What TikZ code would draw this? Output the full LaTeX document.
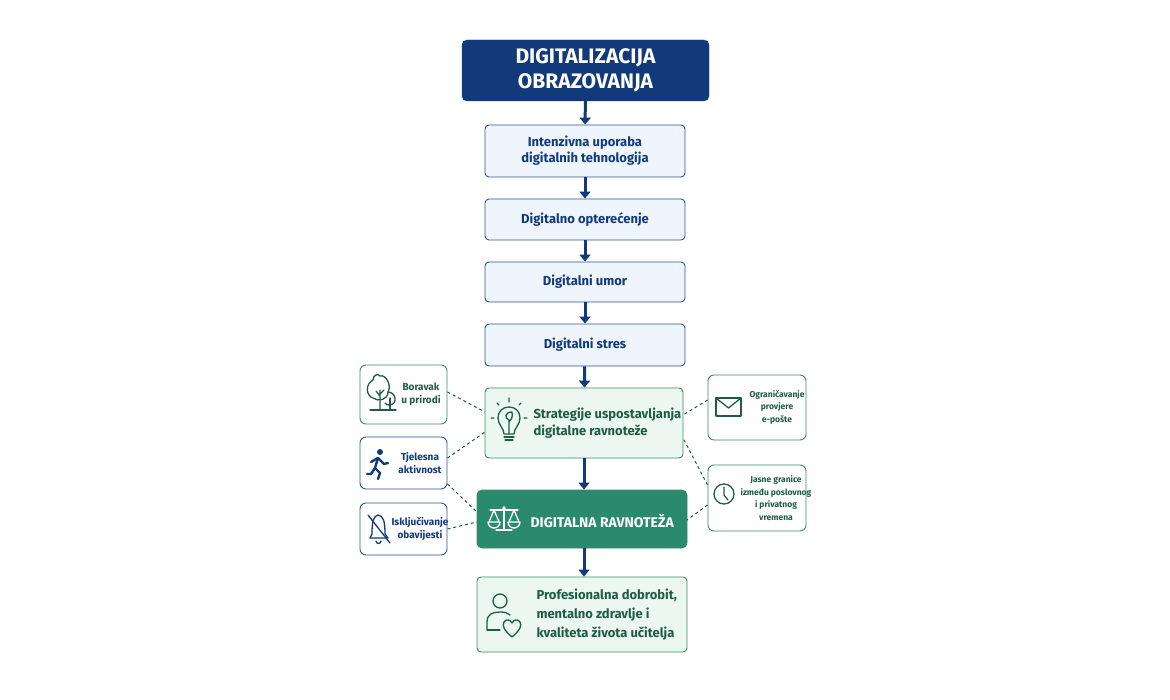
\documentclass[tikz,border=0pt]{standalone}
\usepackage{fontspec}
\setmainfont{Fira Sans}
\usetikzlibrary{arrows.meta}
\definecolor{navy}{HTML}{123A7A}
\definecolor{lblue}{HTML}{EEF5FC}
\definecolor{bborder}{HTML}{2F5597}
\definecolor{gborder}{HTML}{3E8A6B}
\definecolor{lgreen}{HTML}{EDF7F2}
\definecolor{dgreen}{HTML}{2A8A6E}
\definecolor{gtext}{HTML}{1F5C45}
\begin{document}
\begin{tikzpicture}[x=1pt,y=-1pt,
  bluebox/.style={draw=bborder,fill=lblue,rounded corners=4pt,line width=0.9pt,text=navy,font=\fontsize{13}{16}\selectfont\bfseries,align=center},
  greenbox/.style={draw=gborder,fill=lgreen,rounded corners=4pt,line width=0.9pt,text=gtext,font=\fontsize{14}{18}\selectfont\bfseries,align=left},
  side/.style={draw=#1,fill=white,rounded corners=6pt,line width=0.9pt},
  stxt/.style={font=\fontsize{10}{13}\selectfont\bfseries,align=center},
  rtxt/.style={font=\fontsize{8.5}{12.5}\selectfont\bfseries,align=center,text=gtext},
  arr/.style={draw=navy,line width=3pt,-{Triangle[length=7pt,width=11pt]}},
  dconn/.style={draw=gtext,dashed,line width=1pt},
  ic/.style={line width=1.3pt,line cap=round,line join=round}]
\useasboundingbox (0,0) rectangle (1170,700);
\fill[white] (0,0) rectangle (1170,700);
% main boxes
\node[draw=navy,fill=navy,rounded corners=5pt,minimum width=247pt,minimum height=61pt,text=white,font=\fontsize{21}{25}\selectfont\bfseries,align=center] (t) at (585.5,70.5) {DIGITALIZACIJA\\OBRAZOVANJA};
\node[bluebox,minimum width=200pt,minimum height=52pt] (b1) at (585,151) {Intenzivna uporaba\\digitalnih tehnologija};
\node[bluebox,minimum width=200pt,minimum height=41pt] (b2) at (585,219.5) {Digitalno opterećenje};
\node[bluebox,minimum width=200pt,minimum height=40pt] (b3) at (585,282) {Digitalni umor};
\node[bluebox,minimum width=200pt,minimum height=42pt] (b4) at (585,345) {Digitalni stres};
\node[greenbox,minimum width=198pt,minimum height=70pt] (s) at (584,423) {};
\node[text=gtext,font=\fontsize{13}{17}\selectfont\bfseries,align=left,anchor=west] (stx) at (530,423) {Strategije uspostavljanja\\digitalne ravnoteže};
\node[draw=gborder,fill=dgreen,rounded corners=5pt,line width=0.9pt,minimum width=210pt,minimum height=58pt] (bal) at (582,519) {};
\node[text=white,font=\fontsize{14}{18}\selectfont\bfseries,anchor=west] (baltx) at (527,521) {DIGITALNA RAVNOTEŽA};
\node[greenbox,minimum width=210pt,minimum height=75pt] (f) at (582,614.5) {};
\node[text=gtext,font=\fontsize{13}{19}\selectfont\bfseries,align=left,anchor=west] (ftx) at (533,615) {Profesionalna dobrobit,\\mentalno zdravlje i\\kvaliteta života učitelja};
% arrows
\draw[arr] (t) -- (b1);
\draw[arr] (b1) -- (b2);
\draw[arr] (b2) -- (b3);
\draw[arr] (b3) -- (b4);
\draw[arr] (b4) -- (s);
\draw[arr] (s) -- (bal.north -| s);
\draw[arr] (bal.south -| s) -- (f.north -| s);
% side boxes
\node[side=gborder,minimum width=87pt,minimum height=59pt] (l1) at (403.5,394.5) {};
\node[stxt,text=gtext] at (421,394) {Boravak\\u prirodi};
\node[side=bborder,minimum width=87pt,minimum height=52pt] (l2) at (403.5,463) {};
\node[stxt,text=navy] at (420,463) {Tjelesna\\aktivnost};
\node[side=bborder,minimum width=87pt,minimum height=52pt] (l3) at (403.5,529) {};
\node[stxt,text=navy] at (420,529) {Isključivanje\\obavijesti};
\node[side=gborder,minimum width=98pt,minimum height=65pt] (r1) at (757,407.5) {};
\node[rtxt] at (777,407) {Ograničavanje\\provjere\\e-pošte};
\node[side=gborder,minimum width=98pt,minimum height=66pt] (r2) at (757,498) {};
\node[rtxt] at (776,498) {Jasne granice\\između poslovnog\\i privatnog\\vremena};
% dashed connectors
\coordinate (s1) at (485,412); \coordinate (s2) at (485,432);
\coordinate (s3) at (683,415); \coordinate (s4) at (683,438);
\coordinate (q1) at (477,512); \coordinate (q2) at (477,522); \coordinate (q3) at (687,520);
\draw[dconn] (l1.east |- 0,392) -- (s1);
\draw[dconn] (l2.east |- 0,458) -- (s2);
\draw[dconn] (l2.east |- 0,484) -- (q1);
\draw[dconn] (l3.east |- 0,529) -- (q2);
\draw[dconn] (r1.west |- 0,400) -- (s3);
\draw[dconn] (r2.west |- 0,485) -- (s4);
\draw[dconn] (r2.west |- 0,505) -- (q3);
% icons
\begin{scope}[draw=gtext,ic]
\draw (373,380) .. controls (365,384) and (366,396) .. (373,398) .. controls (378,402) and (388,400) .. (388,392) .. controls (392,386) and (386,374) .. (380,376) .. controls (378,373) and (373,375) .. (373,380);
\draw (380,410) -- (380,390) (380,396) -- (376,391) (380,394)--(384,390);
\draw (388,392) .. controls (396,392) and (398,404) .. (390,405) .. controls (388,405) and (386,405) .. (385,403);
\draw (390,410) -- (390,398);
\draw (370,410) -- (396,410);
\end{scope}
\begin{scope}[fill=navy,draw=navy,ic,line width=2.4pt]
\fill (380,452) circle (3pt);
\draw (378,458) -- (375,468) -- (380,473) -- (378,479);
\draw (375,468) -- (371,474) -- (367,474);
\draw (371,462) -- (378,458) -- (384,464) -- (388,463);
\end{scope}
\begin{scope}[draw=navy,ic]
\draw (370,538) -- (372,534) .. controls (372,520) and (374,516) .. (378,515) .. controls (383,516) and (385,520) .. (385,534) -- (388,538) -- cycle;
\draw (376,541) arc[start angle=180,end angle=360,radius=2.5pt];
\draw (368,515) -- (390,543);
\end{scope}
\begin{scope}[draw=gtext,ic]
\draw (504,434) .. controls (504,428) and (498,425) .. (498,418) .. controls (498,411) and (503,407) .. (509,407) .. controls (515,407) and (520,411) .. (520,418) .. controls (520,425) and (514,428) .. (514,434) -- cycle;
\draw (504,437) -- (514,437) (505,440) -- (513,440);
\draw (509,434) -- (509,420) .. controls (504,418) and (505,412) .. (512,412) .. controls (513,418) and (511,420) .. (509,422);
\draw (509,398) -- (509,402) (497,403)--(499,405) (521,403)--(519,405) (491,418)--(494,418) (524,418)--(527,418);
\end{scope}
\begin{scope}[draw=white,ic]
\draw (504,509) -- (504,530) (496,530) -- (512,530);
\draw (490,510) -- (518,510);
\fill[white] (504,508) circle (1.8pt);
\draw (494,510) -- (489,522) -- (499,522) -- cycle;
\draw (514,510) -- (509,522) -- (519,522) -- cycle;
\draw (488,522) arc[start angle=180,end angle=360,radius=6pt];
\draw (508,522) arc[start angle=180,end angle=360,radius=6pt];
\end{scope}
\begin{scope}[draw=gtext,ic]
\draw (500,601) circle (7pt);
\draw (487,630) -- (487,622) .. controls (487,614) and (493,612) .. (500,612) .. controls (505,612) and (508,613) .. (510,615);
\draw (487,630) -- (500,630);
\draw (512,637) .. controls (504,630) and (502,626) .. (504,622) .. controls (506,619) and (510,619) .. (512,623) .. controls (514,619) and (518,619) .. (520,622) .. controls (522,626) and (520,630) .. (512,637);
\end{scope}
\begin{scope}[draw=gtext,ic]
\draw (716,398) rectangle (741,416);
\draw (716,398) -- (728.5,408) -- (741,398);
\end{scope}
\begin{scope}[draw=gtext,ic]
\draw (724,494) circle (10pt);
\draw (724,487) -- (724,495) -- (728,500);
\end{scope}
\end{tikzpicture}
\end{document}
